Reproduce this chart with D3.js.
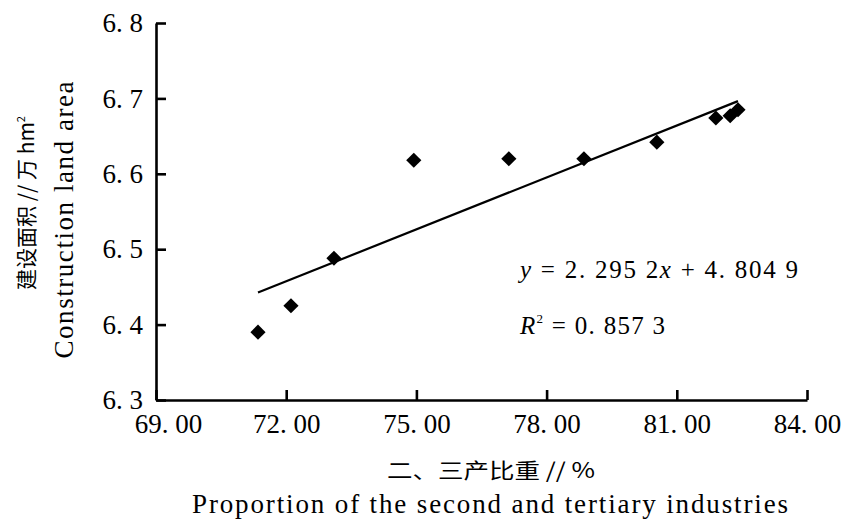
<!DOCTYPE html>
<html>
<head>
<meta charset="utf-8">
<script src="https://cdn.jsdelivr.net/npm/d3@7"></script>
</head>
<body style="margin:0">
<svg id="chart" width="843" height="519"></svg>
<script>
// ---- data ----
const shareSecondTertiary = [71.35, 72.11, 73.10, 74.94, 77.13, 78.86, 80.54, 81.90, 82.23, 82.41];
const constructionArea    = [6.390, 6.425, 6.488, 6.618, 6.620, 6.620, 6.642, 6.674, 6.677, 6.685];
const xTicks = [69, 72, 75, 78, 81, 84];
const xTickLabels = ["69. 00", "72. 00", "75. 00", "78. 00", "81. 00", "84. 00"];
const yTicks = [6.3, 6.4, 6.5, 6.6, 6.7, 6.8];
const yTickLabels = ["6. 3", "6. 4", "6. 5", "6. 6", "6. 7", "6. 8"];
const fitSlope = 2.2952;      // y = slope * (x/100) + intercept
const fitIntercept = 4.8049;
const eqParts = [["y", true], [" = 2. 295 2", false], ["x", true], [" + 4. 804 9", false]];
const r2Label = " = 0. 857 3";
const xTitleCn = "二、三产比重 // %";
const xTitleEn = "Proportion of the second and tertiary industries";
const yTitleCn = "建设面积 // 万 hm";
const yTitleEn = "Construction land area";

const SERIF_STYLE = "font-family: 'Liberation Serif' !important";
const CJK_STYLE = "font-family: 'Noto Sans CJK SC' !important";

// ---- layout ----
const svg = d3.select("#chart");
const x = d3.scaleLinear().domain([69, 84]).range([156, 807]);
const y = d3.scaleLinear().domain([6.3, 6.8]).range([400, 23]);

// axes
const xAxis = d3.axisBottom(x).tickValues(xTicks)
  .tickFormat((d, i) => xTickLabels[i]).tickSize(-10).tickSizeOuter(0).tickPadding(14);
const yAxis = d3.axisLeft(y).tickValues(yTicks)
  .tickFormat((d, i) => yTickLabels[i]).tickSize(-10).tickSizeOuter(0).tickPadding(13);

const gx = svg.append("g").attr("transform", `translate(0,${y(6.3)})`).call(xAxis);
const gy = svg.append("g").attr("transform", `translate(${x(69)},0)`).call(yAxis);

[gx, gy].forEach(g => {
  g.attr("font-family", "Liberation Serif").attr("font-size", 27);
  g.select(".domain").attr("stroke", "#000").attr("stroke-width", 2.6);
  g.selectAll(".tick line").attr("stroke", "#000").attr("stroke-width", 2.6);
  g.selectAll(".tick text").attr("font-family", "Liberation Serif").attr("style", SERIF_STYLE)
    .attr("font-size", 27).attr("fill", "#000");
});
gx.selectAll(".tick text").filter((d, i) => i === 0).attr("dx", 12);

// trend line
const xr = d3.extent(shareSecondTertiary);
const fit = xr.map(v => [v, fitSlope * v / 100 + fitIntercept]);
svg.append("path")
  .attr("d", d3.line().x(d => x(d[0])).y(d => y(d[1]))(fit))
  .attr("stroke", "#000").attr("stroke-width", 2.2).attr("fill", "none");

// points (diamonds)
const pts = shareSecondTertiary.map((v, i) => [v, constructionArea[i]]);
svg.append("g").selectAll("path").data(pts).join("path")
  .attr("d", d3.symbol(d3.symbolSquare, 115))
  .attr("transform", d => `translate(${x(d[0])},${y(d[1])}) rotate(45)`)
  .attr("fill", "#000");

// equation
const eq = svg.append("text").attr("x", 520).attr("y", 278)
  .attr("font-family", "Liberation Serif").attr("style", SERIF_STYLE)
  .attr("font-size", 25).attr("fill", "#000")
  .attr("textLength", 278).attr("lengthAdjust", "spacing");
eqParts.forEach(p => eq.append("tspan").text(p[0]).attr("font-style", p[1] ? "italic" : "normal"));

const r2 = svg.append("text").attr("x", 520).attr("y", 334)
  .attr("font-family", "Liberation Serif").attr("style", SERIF_STYLE)
  .attr("font-size", 25).attr("fill", "#000")
  .attr("textLength", 145).attr("lengthAdjust", "spacing");
r2.append("tspan").text("R").attr("font-style", "italic");
r2.append("tspan").text("2").attr("font-size", 13).attr("dy", -11).attr("dx", 0);
r2.append("tspan").text(r2Label).attr("dy", 11).attr("font-size", 25);

// axis titles
svg.append("text").attr("x", 491).attr("y", 478)
  .attr("text-anchor", "middle").attr("font-family", "Noto Sans CJK SC").attr("style", CJK_STYLE)
  .attr("font-size", 21).attr("fill", "#000")
  .attr("textLength", 208).attr("lengthAdjust", "spacingAndGlyphs")
  .text(xTitleCn);
svg.append("text").attr("x", 490).attr("y", 513)
  .attr("text-anchor", "middle").attr("font-family", "Liberation Serif").attr("style", SERIF_STYLE)
  .attr("font-size", 27).attr("fill", "#000")
  .attr("textLength", 596).attr("lengthAdjust", "spacing")
  .text(xTitleEn);

const yCn = svg.append("text")
  .attr("transform", "translate(34,203) rotate(-90)")
  .attr("text-anchor", "middle").attr("font-family", "Noto Sans CJK SC").attr("style", CJK_STYLE)
  .attr("font-size", 21).attr("fill", "#000");
yCn.append("tspan").text(yTitleCn);
yCn.append("tspan").text("2").attr("font-size", 11).attr("dy", -9);

svg.append("text")
  .attr("transform", "translate(73,220) rotate(-90)")
  .attr("text-anchor", "middle").attr("font-family", "Liberation Serif").attr("style", SERIF_STYLE)
  .attr("font-size", 27).attr("fill", "#000")
  .attr("textLength", 277).attr("lengthAdjust", "spacing")
  .text(yTitleEn);
</script>
</body>
</html>
